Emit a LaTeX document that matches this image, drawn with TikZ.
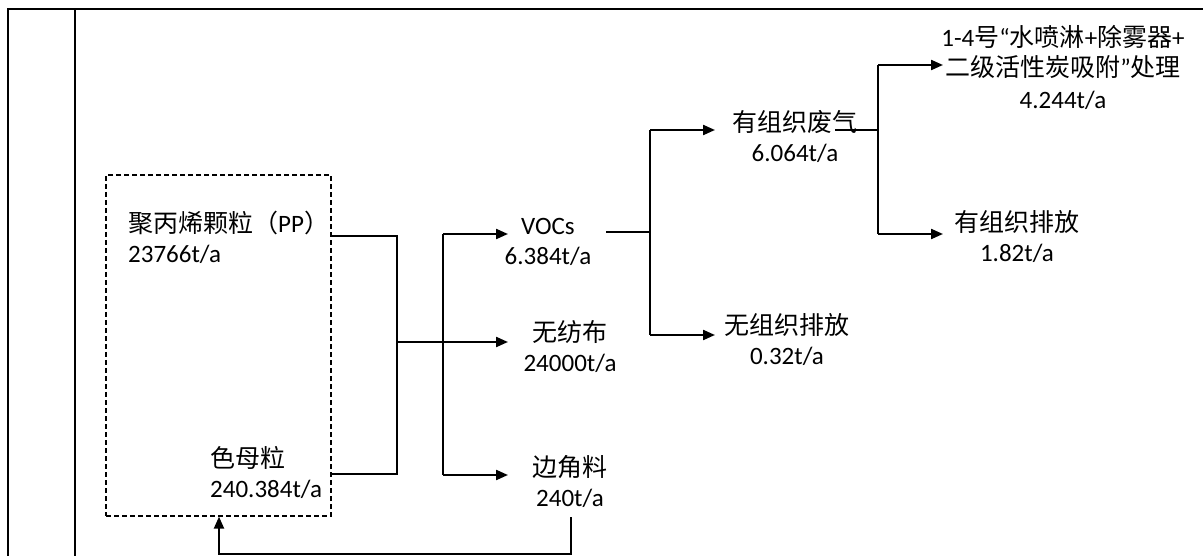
\documentclass[tikz,border=0pt]{standalone}
\usepackage{fontspec}
\setmainfont{Carlito}
\newfontfamily\cjk{Noto Sans CJK SC}
\usetikzlibrary{arrows.meta}
\newcommand\zh[1]{{\cjk #1}}
\begin{document}
\begin{tikzpicture}[x=1pt,y=-1pt,
  conn/.style={line width=2.2pt, line join=miter},
  arr/.style={conn, -{Triangle[length=12pt,width=10pt]}},
  lbl/.style={inner sep=0pt, align=center, font=\fontsize{25}{30}\selectfont},
  dbx/.style={draw, line width=1.3pt, dash pattern=on 5pt off 3pt, inner sep=0pt, minimum width=225pt, minimum height=341pt},
]
\fill[white] (0,0) rectangle (1203,556);
\useasboundingbox (0,0) rectangle (1203,556);
% frame
\draw[line width=2.5pt] (1203,9) -- (8,9) -- (8,556);
\draw[line width=1.3pt] (75,9) -- (75,556);

% nodes
\node[dbx] (dbox) at (218.5,345.5) {};
\node[lbl, align=left, anchor=west] (pp) at (128,237) {\zh{聚丙烯颗粒（}PP\zh{）}\\23766t/a};
\node[lbl, align=left, anchor=west] (sm) at (210,472) {\zh{色母粒}\\240.384t/a};
\node[lbl] (vocs) at (548,242) {VOCs\\6.384t/a};
\node[lbl] (wfb) at (570,347) {\zh{无纺布}\\24000t/a};
\node[lbl] (bjl) at (570,481) {\zh{边角料}\\240t/a};
\node[lbl] (yzfq) at (795,136) {\zh{有组织废气}\\6.064t/a};
\node[lbl] (wzz) at (787,340) {\zh{无组织排放}\\0.32t/a};
\node[lbl] (cl) at (1063,67) {1-4\zh{号}“\zh{水喷淋}+\zh{除雾器}+\\\zh{二级活性炭吸附}”\zh{处理}\\[2pt]4.244t/a};
\node[lbl] (yzp) at (1017,237) {\zh{有组织排放}\\1.82t/a};

% junction coordinates
\coordinate (b1) at (397,236);
\coordinate (b2) at (397,474);
\coordinate (bm) at (397,342);
\coordinate (s1) at (443,234);
\coordinate (s2) at (443,475);
\coordinate (tv) at (508,234);
\coordinate (tw) at (508,342);
\coordinate (tb) at (508,475);
\coordinate (f1) at (571,517);
\coordinate (f2) at (219,554);
\coordinate (v0) at (606,232);
\coordinate (v1) at (650,130);
\coordinate (v2) at (650,335);
\coordinate (ty) at (715,130);
\coordinate (tz) at (715,335);
\coordinate (g0) at (835,130);
\coordinate (g1) at (878,65);
\coordinate (g2) at (878,234);
\coordinate (tc) at (943,65);
\coordinate (tp) at (943,234);

% connectors
\draw[conn] (dbox.east |- b1) -- (b1) -- (b2) -- (dbox.east |- b2);
\draw[conn] (s1) -- (s2);
\draw[arr] (s1) -- (tv);
\draw[arr] (bm) -- (tw);
\draw[arr] (s2) -- (tb);
\draw[arr] (f1) |- (f2) -- (dbox.south -| f2);
\draw[conn] (v0) -- (v0 -| v1);
\draw[conn] (v1) -- (v2);
\draw[arr] (v1) -- (ty);
\draw[arr] (v2) -- (tz);
\draw[conn] (g0) -- (g0 -| g1);
\draw[conn] (g1) -- (g2);
\draw[arr] (g1) -- (tc);
\draw[arr] (g2) -- (tp);
\end{tikzpicture}
\end{document}
